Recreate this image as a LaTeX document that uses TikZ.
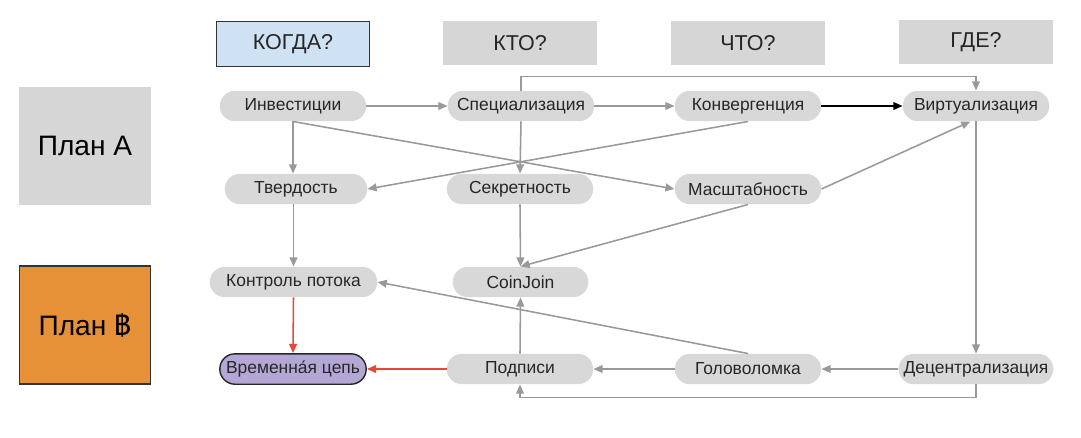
\documentclass[tikz,border=0pt]{standalone}
\usepackage{fontspec}
\setmainfont{Liberation Sans}
\newfontfamily\thaifont[Script=Thai]{Loma}
\usetikzlibrary{shapes.misc,arrows.meta,positioning}

\definecolor{pillgray}{HTML}{D8D8D8}
\definecolor{headgray}{HTML}{D6D6D6}
\definecolor{whenblue}{HTML}{CFE2F3}
\definecolor{planorange}{HTML}{E69138}
\definecolor{chainpurple}{HTML}{B4A7D6}
\definecolor{linegray}{HTML}{999999}
\definecolor{linered}{HTML}{E8463A}

\begin{document}
\begin{tikzpicture}[x=0.025cm,y=-0.025cm,
  pill/.style={rounded rectangle, fill=pillgray, minimum width=3.8cm, minimum height=0.76cm,
    inner xsep=2pt, font=\fontsize{12.4}{14}\selectfont, text=black!85},
  header/.style={rectangle, fill=headgray, minimum width=3.83cm, minimum height=1.12cm,
    font=\fontsize{15.3}{17}\selectfont, text=black!85},
  plan/.style={rectangle, fill=headgray, minimum width=3.28cm, minimum height=2.95cm,
    font=\fontsize{20}{22}\selectfont},
  arr/.style={draw=linegray, line width=1.1pt, -{Triangle[length=6.5pt,width=5.5pt]}},
  redarr/.style={arr, draw=linered},
]
\useasboundingbox (0,0) rectangle (1081,437);
% Column headers
\node[header, fill=whenblue, draw=black!80, line width=0.8pt] (when) at (293,44) {КОГДА?};
\node[header] (who) at (520,43) {КТО?};
\node[header] (what) at (748,43) {ЧТО?};
\node[header] (where) at (976,42) {ГДЕ?};
% Plans
\node[plan] (planA) at (85,146) {План А};
\node[plan, fill=planorange, draw=black!80, line width=0.8pt] (planB) at (85,325) {План {\thaifont ฿}};
% Row 1
\node[pill] (inv) at (293,106) {Инвестиции};
\node[pill] (spec) at (521,106) {Специализация};
\node[pill] (konv) at (748,106) {Конвергенция};
\node[pill] (virt) at (976,106) {Виртуализация};
% Row 2
\node[pill, minimum width=3.7cm] (tverd) at (296,189) {Твердость};
\node[pill] (secr) at (520,189) {Секретность};
\node[pill] (masht) at (748,189) {Масштабность};
% Row 3
\node[pill, minimum width=4.33cm] (kontr) at (293.5,282) {Контроль потока};
\node[pill, minimum width=3.53cm] (coin) at (520.5,282) {CoinJoin};
% Row 4
\node[pill, fill=chainpurple, draw=black!85, line width=1pt] (vrem) at (293,369) {Временна́я цепь};
\node[pill] (podp) at (520,369) {Подписи};
\node[pill] (golov) at (748,369) {Головоломка};
\node[pill] (dec) at (976,369) {Децентрализация};
% Connectors
\draw[arr] (inv.east) -- (spec.west);
\draw[arr] (spec.east) -- (konv.west);
\draw[arr, draw=black] (konv.east) -- (virt.west);
\draw[arr] (inv.south) -- (inv.south |- tverd.north);
\draw[arr] (inv.south) -- (masht.west);
\draw[arr] (konv.south) -- (tverd.east);
\draw[arr] (spec.south) -- (secr.north);
\draw[arr] (spec.north) -- ++(0,-14) -| (virt.north);
\draw[arr] (masht.east) -- ([xshift=-4]virt.south);
\draw[arr] (masht.south) -- (coin.north);
\draw[arr] (secr.south) -- (coin.north);
\draw[arr] (kontr.north |- tverd.south) -- (kontr.north);
\draw[arr] (virt.south) -- (dec.north);
\draw[arr] (dec.west) -- (golov.east);
\draw[arr] (golov.west) -- (podp.east);
\draw[arr] (golov.north) -- (kontr.east);
\draw[arr] (podp.north) -- (coin.south);
\draw[arr] (dec.south) -- ++(0,13) -| (podp.south);
% Red path to the time chain
\draw[redarr] (kontr.south) -- (vrem.north);
\draw[redarr] (podp.west) -- (vrem.east);
\end{tikzpicture}
\end{document}
